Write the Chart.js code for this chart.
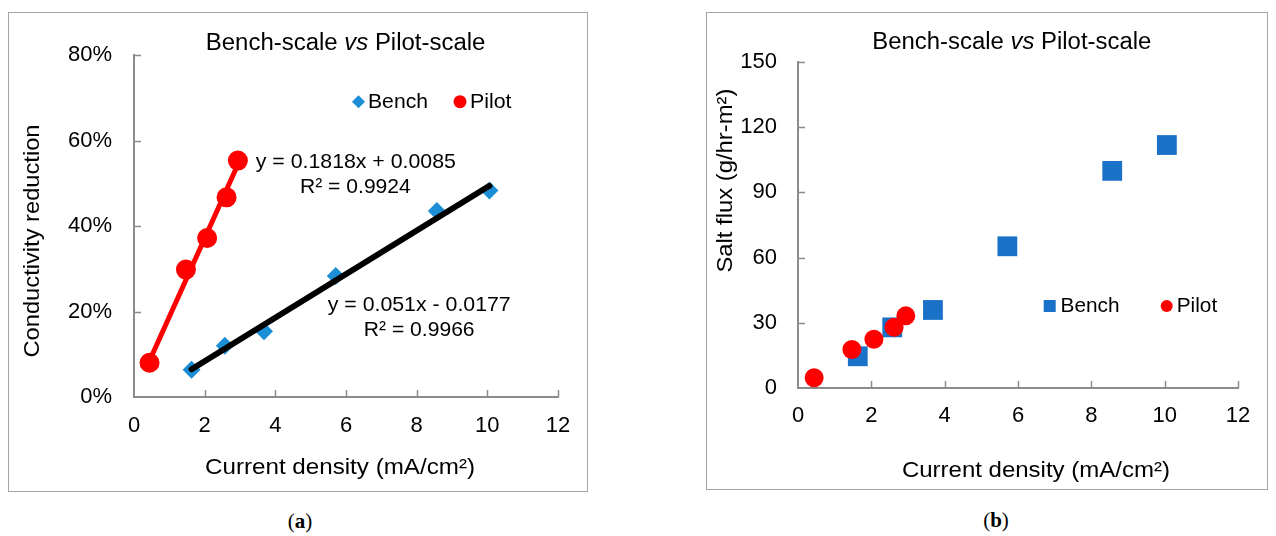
<!DOCTYPE html>
<html><head><meta charset="utf-8">
<script src="https://cdn.jsdelivr.net/npm/chart.js@4.4.1/dist/chart.umd.min.js"></script>
<style>
html,body{margin:0;padding:0;background:#fff;width:1276px;height:536px;overflow:hidden;}
.box{position:absolute;border:1px solid #a3a3a3;box-sizing:border-box;background:#fff;}
.box canvas{position:absolute;left:0;top:0;}
.cap{position:absolute;font-family:"Liberation Serif","DejaVu Serif",serif;font-size:21px;color:#000;transform:translate(-50%,-50%);white-space:nowrap;}
</style></head><body>
<div class="box" style="left:8px;top:12px;width:580px;height:480px;"><canvas id="cA" width="578" height="478"></canvas></div>
<div class="box" style="left:706px;top:12px;width:562px;height:478px;"><canvas id="cB" width="560" height="476"></canvas></div>
<div class="cap" style="left:300px;top:521px;">(<b>a</b>)</div>
<div class="cap" style="left:996px;top:520px;">(<b>b</b>)</div>
<script>
// ---- data ----
const benchX = [1.63, 2.57, 3.68, 5.71, 8.57, 10.06];
const pilotX = [0.44, 1.47, 2.07, 2.62, 2.94];
const benchCond = [0.064, 0.120, 0.154, 0.283, 0.435, 0.483];
const pilotCond = [0.080, 0.298, 0.372, 0.467, 0.553];
const benchFitX = [1.63, 10.06];
const benchFitY = [0.065, 0.494];
const pilotFitX = [0.44, 2.94];
const pilotFitY = [0.085, 0.544];
const benchFlux = [14.6, 27.9, 35.9, 65.2, 99.9, 111.8];
const pilotFlux = [4.7, 17.7, 22.4, 27.9, 33.2];
const xTickLabels = ['0', '2', '4', '6', '8', '10', '12'];
const yTickLabelsA = ['0%', '20%', '40%', '60%', '80%'];
const yTickLabelsB = ['0', '30', '60', '90', '120', '150'];
const seriesNames = ['Bench', 'Pilot'];
const titleParts = ['Bench-scale ', 'vs', ' Pilot-scale'];
const xTitle = 'Current density (mA/cm²)';
const yTitleA = 'Conductivity reduction';
const yTitleB = 'Salt flux (g/hr-m²)';
const eqBench = ['y = 0.051x - 0.0177', 'R² = 0.9966'];
const eqPilot = ['y = 0.1818x + 0.0085', 'R² = 0.9924'];

const pts = (xs, ys) => xs.map((x, i) => ({x: x, y: ys[i]}));
const FONT = '"Liberation Sans", Arial, sans-serif';
const AXIS = '#8c8c8c';
const BENCH_A = '#1b8ed6', BENCH_B = '#1a72c8', RED = '#ff0000';

function drawText(ctx, parts, x, y, size, targetW, align, rot) {
  ctx.save();
  const widths = parts.map(p => { ctx.font = (p.i ? 'italic ' : '') + size + 'px ' + FONT; return ctx.measureText(p.t).width; });
  const total = widths.reduce((a, b) => a + b, 0);
  const sx = targetW ? targetW / total : 1;
  ctx.translate(x, y);
  if (rot) ctx.rotate(rot);
  ctx.scale(sx, 1);
  let cx = align === 'center' ? -total / 2 : 0;
  ctx.textBaseline = 'middle'; ctx.textAlign = 'left'; ctx.fillStyle = '#000';
  parts.forEach((p, k) => { ctx.font = (p.i ? 'italic ' : '') + size + 'px ' + FONT; ctx.fillText(p.t, cx, 0); cx += widths[k]; });
  ctx.restore();
}

const insideTicks = {
  id: 'insideTicks',
  beforeDatasetsDraw(chart) {
    const ctx = chart.ctx, a = chart.chartArea, xs = chart.scales.x, ys = chart.scales.y;
    ctx.save(); ctx.strokeStyle = AXIS; ctx.lineWidth = 1.5; ctx.beginPath();
    xs.ticks.forEach(t => { const px = Math.round(xs.getPixelForValue(t.value)) + 0.5; if (t.value > xs.min) { ctx.moveTo(px, a.bottom); ctx.lineTo(px, a.bottom - 7); } });
    ys.ticks.forEach(t => { const py = Math.round(ys.getPixelForValue(t.value)) + 0.5; if (t.value > ys.min) { ctx.moveTo(a.left, py); ctx.lineTo(a.left + 7, py); } });
    ctx.stroke(); ctx.restore();
  }
};

const annot = {
  id: 'annot',
  afterDraw(chart, args, opts) {
    const ctx = chart.ctx;
    (opts.items || []).forEach(it => drawText(ctx, it.parts, it.x, it.y, it.size, it.w, it.align, it.rot));
    (opts.marks || []).forEach(m => {
      ctx.save(); ctx.fillStyle = m.color; ctx.beginPath();
      if (m.shape === 'diamond') { ctx.moveTo(m.x - m.r, m.y); ctx.lineTo(m.x, m.y - m.r); ctx.lineTo(m.x + m.r, m.y); ctx.lineTo(m.x, m.y + m.r); ctx.closePath(); }
      else if (m.shape === 'square') { ctx.rect(m.x - m.r, m.y - m.r, 2 * m.r, 2 * m.r); }
      else { ctx.arc(m.x, m.y, m.r, 0, Math.PI * 2); }
      ctx.fill(); ctx.restore();
    });
  }
};

function scalesFor(yMax, yStep, yLabels, yPad, yWidth, xPad, xHeight) {
  const tickFont = {family: FONT, size: 22};
  return {
    x: {type: 'linear', min: 0, max: 12,
        ticks: {stepSize: 2, padding: xPad, color: '#000', font: tickFont, maxRotation: 0, callback: (v, i) => xTickLabels[i]},
        grid: {display: false, drawTicks: false}, border: {color: AXIS, width: 2},
        afterFit(s) { s.height = xHeight; }},
    y: {type: 'linear', min: 0, max: yMax,
        ticks: {stepSize: yStep, padding: yPad, color: '#000', font: tickFont, callback: (v, i) => yLabels[i]},
        grid: {display: false, drawTicks: false}, border: {color: AXIS, width: 2},
        afterFit(s) { s.width = yWidth; }}
  };
}

const title = [{t: titleParts[0]}, {t: titleParts[1], i: true}, {t: titleParts[2]}];

new Chart(document.getElementById('cA'), {
  type: 'scatter',
  data: {datasets: [
    {label: 'Bench trend', data: pts(benchFitX, benchFitY), showLine: true, borderColor: '#000', borderWidth: 6, borderCapStyle: 'round', pointRadius: 0, order: 0},
    {label: seriesNames[0], data: pts(benchX, benchCond), pointStyle: 'rectRot', pointRadius: 9, backgroundColor: BENCH_A, borderColor: BENCH_A, borderWidth: 0, order: 1},
    {label: 'Pilot trend', data: pts(pilotFitX, pilotFitY), showLine: true, borderColor: RED, borderWidth: 5, borderCapStyle: 'round', pointRadius: 0, order: 3},
    {label: seriesNames[1], data: pts(pilotX, pilotCond), pointStyle: 'circle', pointRadius: 10, backgroundColor: RED, borderColor: RED, borderWidth: 0, order: 2}
  ]},
  options: {
    responsive: false, animation: false, clip: false,
    layout: {padding: {left: 0, right: 29, top: 42, bottom: 0}},
    plugins: {legend: {display: false}, tooltip: {enabled: false},
      annot: {
        items: [
          {parts: title, x: 336.6, y: 31, size: 23, w: 279.6, align: 'center'},
          {parts: [{t: yTitleA}], x: 23.7, y: 228, size: 22, w: 233, align: 'center', rot: -Math.PI / 2},
          {parts: [{t: xTitle}], x: 331, y: 454.5, size: 22, w: 270, align: 'center'},
          {parts: [{t: eqPilot[0]}], x: 246.8, y: 149.5, size: 21, w: 200, align: 'left'},
          {parts: [{t: eqPilot[1]}], x: 291, y: 174.5, size: 21, w: 110.8, align: 'left'},
          {parts: [{t: eqBench[0]}], x: 318.7, y: 292.3, size: 21, w: 183, align: 'left'},
          {parts: [{t: eqBench[1]}], x: 354.8, y: 317, size: 21, w: 110.8, align: 'left'},
          {parts: [{t: seriesNames[0]}], x: 359, y: 89.2, size: 21, w: 60, align: 'left'},
          {parts: [{t: seriesNames[1]}], x: 461, y: 89.2, size: 21, w: 41.5, align: 'left'}
        ],
        marks: [
          {shape: 'diamond', x: 349.5, y: 88.7, r: 6.5, color: BENCH_A},
          {shape: 'circle', x: 451, y: 88.7, r: 6.5, color: RED}
        ]
      }},
    scales: scalesFor(0.8, 0.2, yTickLabelsA, 22, 125, 15.4, 94)
  },
  plugins: [insideTicks, annot]
});

new Chart(document.getElementById('cB'), {
  type: 'scatter',
  data: {datasets: [
    {label: seriesNames[1], data: pts(pilotX, pilotFlux), pointStyle: 'circle', pointRadius: 9.5, backgroundColor: RED, borderColor: RED, borderWidth: 0, order: 0},
    {label: seriesNames[0], data: pts(benchX, benchFlux), pointStyle: 'rect', pointRadius: 14, backgroundColor: BENCH_B, borderColor: BENCH_B, borderWidth: 0, order: 1}
  ]},
  options: {
    responsive: false, animation: false, clip: false,
    layout: {padding: {left: 0, right: 29, top: 49, bottom: 0}},
    plugins: {legend: {display: false}, tooltip: {enabled: false},
      annot: {
        items: [
          {parts: title, x: 304.8, y: 30, size: 23, w: 279, align: 'center'},
          {parts: [{t: yTitleB}], x: 18.5, y: 167.6, size: 22, w: 184, align: 'center', rot: -Math.PI / 2},
          {parts: [{t: xTitle}], x: 328.9, y: 457.7, size: 22, w: 268, align: 'center'},
          {parts: [{t: seriesNames[0]}], x: 353.6, y: 293.5, size: 21, w: 59, align: 'left'},
          {parts: [{t: seriesNames[1]}], x: 469.7, y: 293.5, size: 21, w: 40.5, align: 'left'}
        ],
        marks: [
          {shape: 'square', x: 342.7, y: 293, r: 6, color: BENCH_B},
          {shape: 'circle', x: 459.7, y: 293, r: 6, color: RED}
        ]
      }},
    scales: scalesFor(150, 30, yTickLabelsB, 21, 91, 14.7, 101)
  },
  plugins: [insideTicks, annot]
});
</script>
</body></html>
